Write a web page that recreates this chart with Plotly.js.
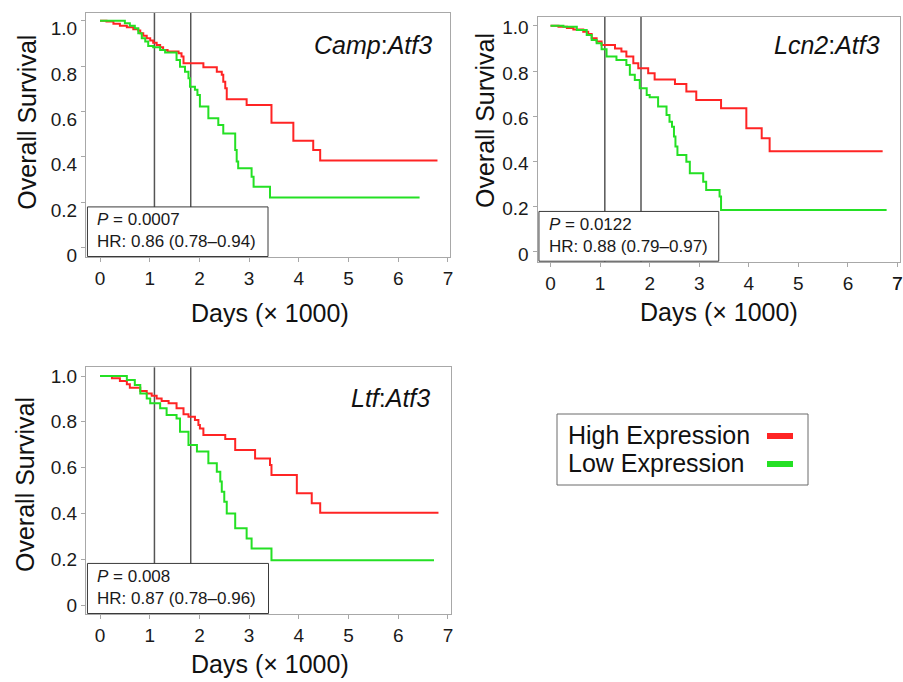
<!DOCTYPE html>
<html><head><meta charset="utf-8">
<script src="https://cdn.plot.ly/plotly-3.0.1.min.js"></script>
<style>html,body{margin:0;padding:0;background:#fff}#chart{width:903px;height:682px}</style>
</head><body><div id="chart"></div>
<script>
// ---- data ----
const panelGenes = ['Camp', 'Lcn2', 'Ltf'];
const partnerGene = 'Atf3';
const pValues = ['0.0007', '0.0122', '0.008'];
const hrTexts = ['0.86 (0.78–0.94)', '0.88 (0.79–0.97)', '0.87 (0.78–0.96)'];
const seriesNames = ['High Expression', 'Low Expression'];
const seriesColors = ['#ff2424', '#24e024'];
const markerDays = [1.095, 1.825];   // 3 and 5 years (x 1000 days)
const xTicks = [0, 1, 2, 3, 4, 5, 6, 7];
const yTicks = [0, 0.2, 0.4, 0.6, 0.8, 1.0];
const yTickText = ['0', '0.2', '0.4', '0.6', '0.8', '1.0'];

// Camp:Atf3
const campHighDays = [0, 0.13, 0.27, 0.40, 0.54, 0.67, 0.77, 0.81, 0.87, 0.94, 1.01, 1.07, 1.14, 1.21, 1.27, 1.36, 1.58, 1.64, 1.68, 2.08, 2.35, 2.45, 2.48, 2.52, 2.55, 2.95, 3.45, 3.89, 4.29, 4.43, 6.79];
const campHighSurv = [1.0, 0.996, 0.986, 0.977, 0.971, 0.962, 0.956, 0.944, 0.933, 0.922, 0.912, 0.903, 0.893, 0.883, 0.871, 0.864, 0.856, 0.842, 0.812, 0.794, 0.775, 0.761, 0.731, 0.702, 0.653, 0.628, 0.550, 0.470, 0.430, 0.383, 0.383];
const campLowDays = [0, 0.50, 0.60, 0.70, 0.77, 0.84, 0.91, 0.97, 1.07, 1.21, 1.31, 1.54, 1.61, 1.71, 1.78, 1.81, 1.91, 1.96, 2.01, 2.18, 2.38, 2.48, 2.72, 2.75, 2.78, 3.05, 3.09, 3.42, 6.43];
const campLowSurv = [1.0, 0.988, 0.977, 0.966, 0.944, 0.922, 0.908, 0.888, 0.883, 0.871, 0.859, 0.827, 0.797, 0.775, 0.746, 0.709, 0.695, 0.672, 0.621, 0.570, 0.540, 0.503, 0.430, 0.379, 0.349, 0.312, 0.268, 0.220, 0.220];

// Lcn2:Atf3
const lcn2HighDays = [0, 0.16, 0.33, 0.46, 0.66, 0.76, 0.83, 0.93, 1.03, 1.30, 1.43, 1.53, 1.67, 1.77, 1.97, 2.10, 2.51, 2.74, 2.94, 3.44, 3.95, 4.26, 4.42, 6.70];
const lcn2HighSurv = [1.0, 0.996, 0.990, 0.984, 0.974, 0.964, 0.945, 0.930, 0.915, 0.900, 0.886, 0.864, 0.834, 0.812, 0.790, 0.763, 0.743, 0.709, 0.672, 0.635, 0.547, 0.503, 0.445, 0.445];
const lcn2LowDays = [0, 0.26, 0.53, 0.73, 0.83, 0.93, 1.03, 1.13, 1.33, 1.53, 1.60, 1.70, 1.80, 1.94, 2.00, 2.17, 2.34, 2.40, 2.45, 2.49, 2.52, 2.56, 2.74, 2.81, 3.08, 3.14, 3.41, 3.44, 6.78];
const lcn2LowSurv = [1.0, 0.996, 0.981, 0.959, 0.937, 0.923, 0.896, 0.864, 0.849, 0.827, 0.783, 0.760, 0.724, 0.694, 0.684, 0.643, 0.606, 0.576, 0.554, 0.510, 0.466, 0.429, 0.399, 0.348, 0.311, 0.274, 0.245, 0.186, 0.186];

// Ltf:Atf3
const ltfHighDays = [0, 0.24, 0.40, 0.54, 0.60, 0.81, 0.94, 1.04, 1.14, 1.24, 1.38, 1.54, 1.68, 1.78, 1.91, 1.98, 2.01, 2.08, 2.52, 2.72, 3.12, 3.42, 3.45, 3.96, 4.26, 4.43, 6.81];
const ltfHighSurv = [1.0, 0.990, 0.978, 0.964, 0.949, 0.934, 0.924, 0.914, 0.902, 0.891, 0.881, 0.859, 0.833, 0.822, 0.808, 0.786, 0.771, 0.742, 0.725, 0.677, 0.640, 0.611, 0.568, 0.488, 0.444, 0.403, 0.403];
const ltfLowDays = [0, 0.54, 0.70, 0.81, 0.94, 1.01, 1.21, 1.34, 1.54, 1.61, 1.78, 1.95, 2.18, 2.35, 2.42, 2.45, 2.50, 2.55, 2.72, 2.95, 3.05, 3.45, 6.72];
const ltfLowSurv = [1.0, 0.983, 0.961, 0.924, 0.902, 0.881, 0.859, 0.830, 0.815, 0.757, 0.699, 0.670, 0.619, 0.582, 0.539, 0.495, 0.451, 0.400, 0.335, 0.291, 0.247, 0.196, 0.196];

const highDays = [campHighDays, lcn2HighDays, ltfHighDays];
const highSurv = [campHighSurv, lcn2HighSurv, ltfHighSurv];
const lowDays = [campLowDays, lcn2LowDays, ltfLowDays];
const lowSurv = [campLowSurv, lcn2LowSurv, ltfLowSurv];

// ---- layout geometry (pixels in a 903 x 682 page) ----
const W = 903, H = 682;
const px = v => v / W;
const py = v => 1 - v / H;
const panels = [
  {x0: 86, x1: 450, y0: 12.7, y1: 257, xr: [-0.282, 7.042], yr: [-0.042, 1.035], shift: 8,
   yTitle: [26.7, 122], xTitle: [269.5, 313], name: [434, 45], edgeLabel: false},
  {x0: 537.5, x1: 900, y0: 16.5, y1: 261.7, xr: [-0.263, 7.05], yr: [-0.043, 1.041], shift: 2,
   yTitle: [485, 121], xTitle: [719, 312], name: [882, 45], edgeLabel: true},
  {x0: 86, x1: 451, y0: 367.3, y1: 614, xr: [-0.282, 7.062], yr: [-0.039, 1.038], shift: 0,
   yTitle: [25, 485], xTitle: [270, 664], name: [432, 398], edgeLabel: false}
];

const FONT = 'Arial, "Liberation Sans", sans-serif';
const traces = [];
const shapes = [];
const annotations = [];
const layout = {
  width: W, height: H, margin: {l: 0, r: 0, t: 0, b: 0},
  paper_bgcolor: '#ffffff', plot_bgcolor: '#ffffff',
  showlegend: false, font: {family: FONT, color: '#1a1a1a'}
};

panels.forEach((p, i) => {
  const n = i === 0 ? '' : String(i + 1);
  const xa = 'x' + n, ya = 'y' + n;
  layout['xaxis' + n] = {
    domain: [px(p.x0), px(p.x1)], range: p.xr, anchor: ya,
    tickvals: xTicks, ticks: 'outside', ticklen: 4, tickcolor: '#a8a8a8',
    showline: true, mirror: true, linecolor: '#a8a8a8', linewidth: 1,
    showgrid: false, zeroline: false, ticklabelstandoff: 0, ticklabeloverflow: 'allow',
    tickfont: {size: 19, family: FONT, color: '#1a1a1a'}
  };
  layout['yaxis' + n] = {
    domain: [py(p.y1), py(p.y0)], range: p.yr, anchor: xa,
    tickvals: yTicks, ticktext: yTickText, ticks: 'outside', ticklen: 4, tickcolor: '#a8a8a8',
    showline: true, mirror: true, linecolor: '#a8a8a8', linewidth: 1,
    showgrid: false, zeroline: false, ticklabelshift: p.shift, ticklabeloverflow: 'allow',
    tickfont: {size: 19, family: FONT, color: '#1a1a1a'}
  };

  traces.push({
    type: 'scatter', mode: 'lines', x: highDays[i], y: highSurv[i], xaxis: xa, yaxis: ya,
    name: seriesNames[0], line: {shape: 'hv', color: seriesColors[0], width: 2}
  });
  traces.push({
    type: 'scatter', mode: 'lines', x: lowDays[i], y: lowSurv[i], xaxis: xa, yaxis: ya,
    name: seriesNames[1], line: {shape: 'hv', color: seriesColors[1], width: 2}
  });

  // last tick label at the page edge (Plotly drops it there), placed on the axis scale
  if (p.edgeLabel) {
    const last = xTicks[xTicks.length - 1];
    annotations.push({xref: xa, yref: ya + ' domain', x: last, y: 0, yshift: -22,
      xanchor: 'center', yanchor: 'middle', showarrow: false, text: String(last),
      font: {size: 19, family: FONT, color: '#1a1a1a'}});
  }

  markerDays.forEach(d => {
    shapes.push({type: 'line', xref: xa, yref: ya + ' domain', x0: d, x1: d, y0: 0, y1: 1,
      line: {color: '#555555', width: 1.5}, layer: 'below'});
  });
  // stats box
  shapes.push({type: 'rect', xref: xa + ' domain', yref: ya + ' domain',
    x0: 0.004, x1: 0.5, y0: 0.002, y1: 0.205,
    fillcolor: '#ffffff', line: {color: '#3a3a3a', width: 1}, layer: 'above'});
  annotations.push({xref: xa + ' domain', yref: ya + ' domain', x: 0.026, y: 0.107,
    xanchor: 'left', yanchor: 'middle', align: 'left', showarrow: false,
    text: '<i>P</i> = ' + pValues[i] + '<br>HR: ' + hrTexts[i],
    font: {size: 17, family: FONT, color: '#1a1a1a'}});

  // panel label
  annotations.push({xref: 'paper', yref: 'paper', x: px(p.name[0]), y: py(p.name[1]),
    xanchor: 'right', yanchor: 'middle', showarrow: false,
    text: '<i>' + panelGenes[i] + '</i>:<i>' + partnerGene + '</i>',
    font: {size: 25, family: FONT, color: '#111111'}});
  // axis titles
  annotations.push({xref: 'paper', yref: 'paper', x: px(p.yTitle[0]), y: py(p.yTitle[1]),
    xanchor: 'center', yanchor: 'middle', textangle: -90, showarrow: false,
    text: 'Overall Survival', font: {size: 25, family: FONT, color: '#111111'}});
  annotations.push({xref: 'paper', yref: 'paper', x: px(p.xTitle[0]), y: py(p.xTitle[1]),
    xanchor: 'center', yanchor: 'middle', showarrow: false,
    text: 'Days (× 1000)', font: {size: 25, family: FONT, color: '#111111'}});
});

// custom legend (text first, colour swatch on the right)
shapes.push({type: 'rect', xref: 'paper', yref: 'paper', x0: px(557), x1: px(808), y0: py(485), y1: py(414),
  fillcolor: 'rgba(0,0,0,0)', line: {color: '#6a6a6a', width: 1}});
const legendRows = [435, 463];
seriesNames.forEach((s, k) => {
  annotations.push({xref: 'paper', yref: 'paper', x: px(566), y: py(legendRows[k]),
    xanchor: 'left', yanchor: 'middle', showarrow: false, text: s,
    font: {size: 25, family: FONT, color: '#111111'}});
  shapes.push({type: 'line', xref: 'paper', yref: 'paper', x0: px(767), x1: px(793),
    y0: py(legendRows[k] + 1), y1: py(legendRows[k] + 1),
    line: {color: seriesColors[k], width: 6}});
});

layout.shapes = shapes;
layout.annotations = annotations;
Plotly.newPlot('chart', traces, layout, {staticPlot: true, displayModeBar: false});
</script>
</body></html>
